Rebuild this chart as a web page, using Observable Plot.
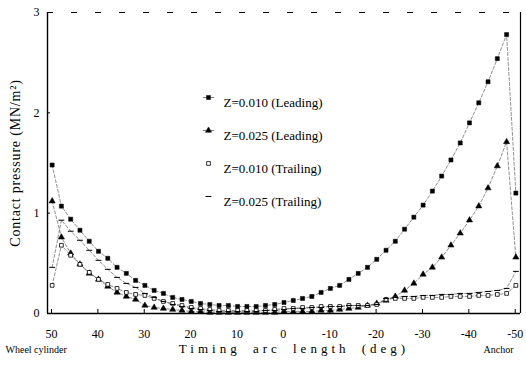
<!DOCTYPE html>
<html><head><meta charset="utf-8">
<script src="https://cdn.jsdelivr.net/npm/d3@7"></script>
<script src="https://cdn.jsdelivr.net/npm/@observablehq/plot@0.6"></script>
<style>
body{margin:0;background:#fff;}
#chart{width:526px;height:368px;}
</style></head><body><div id="chart"></div>
<script>
// Timing arc length (deg) of each sample point
const arcDeg = [49,47,45,43,41,39,37,35,33,31,29,27,25,23,21,19,17,15,13,11,9,7,5,3,1,-1,-3,-5,-7,-9,-11,-13,-15,-17,-19,-21,-23,-25,-27,-29,-31,-33,-35,-37,-39,-41,-43,-45,-47,-49,-51];
// Contact pressure (MN/m^2)
const leading010 = [1.48,1.07,0.94,0.83,0.72,0.62,0.55,0.46,0.40,0.33,0.28,0.23,0.20,0.16,0.14,0.12,0.10,0.09,0.08,0.08,0.07,0.07,0.07,0.08,0.09,0.11,0.13,0.15,0.17,0.21,0.25,0.28,0.34,0.40,0.46,0.54,0.63,0.72,0.84,0.96,1.08,1.22,1.37,1.53,1.70,1.90,2.10,2.31,2.54,2.78,1.20];
const leading025 = [1.12,0.76,0.60,0.49,0.40,0.34,0.27,0.21,0.17,0.14,0.08,0.06,0.05,0.04,0.03,0.02,0.02,0.01,0.01,0.01,0.01,0.01,0.01,0.01,0.01,0.02,0.02,0.02,0.02,0.03,0.03,0.04,0.05,0.06,0.08,0.10,0.13,0.17,0.23,0.30,0.39,0.46,0.56,0.68,0.80,0.93,1.07,1.25,1.47,1.71,0.56];
const trailing010 = [0.28,0.68,0.58,0.49,0.41,0.34,0.29,0.25,0.21,0.19,0.18,0.15,0.12,0.10,0.08,0.06,0.05,0.04,0.03,0.03,0.03,0.03,0.03,0.03,0.04,0.05,0.05,0.06,0.06,0.07,0.07,0.07,0.08,0.08,0.08,0.09,0.14,0.15,0.15,0.15,0.16,0.16,0.16,0.17,0.17,0.17,0.18,0.18,0.19,0.20,0.28];
const trailing025 = [0.46,0.93,0.82,0.73,0.63,0.53,0.44,0.36,0.30,0.26,0.20,0.16,0.12,0.09,0.07,0.05,0.04,0.03,0.02,0.02,0.02,0.02,0.02,0.03,0.03,0.04,0.05,0.05,0.06,0.06,0.07,0.07,0.08,0.08,0.08,0.09,0.15,0.16,0.17,0.17,0.18,0.18,0.19,0.19,0.20,0.20,0.21,0.22,0.23,0.25,0.42];
const seriesNames = ["Z=0.010 (Leading)","Z=0.025 (Leading)","Z=0.010 (Trailing)","Z=0.025 (Trailing)"];
const xTicks = [50,40,30,20,10,0,-10,-20,-30,-40,-50];
const yTicks = [0,1,2,3];
const xLabel = "Timing arc length (deg)";
const yLabel = "Contact pressure (MN/m²)";
const leftNote = "Wheel cylinder";
const rightNote = "Anchor";

const seriesValues = [leading010, leading025, trailing010, trailing025];
const rows = seriesValues.flatMap((vals, s) => arcDeg.map((x, i) => ({x, y: vals[i], s})));

const dash = {draw(ctx, size){ const w = Math.sqrt(size) * 0.55; ctx.moveTo(-w, 0); ctx.lineTo(w, 0); }};
const withLine = (shape) => ({draw(ctx, size){
  const s = Math.sqrt(size);
  ctx.moveTo(-s * 1.4, 0); ctx.lineTo(-s * 0.45, 0);
  ctx.moveTo(s * 0.45, 0); ctx.lineTo(s * 1.4, 0);
  shape.draw(ctx, size);
}});
const styles = [
  {symbol: d3.symbolSquare, legend: withLine(d3.symbolSquare), fill: "black", stroke: "black", r: 2.3, sw: 0.5},
  {symbol: d3.symbolTriangle, legend: withLine(d3.symbolTriangle), fill: "black", stroke: "black", r: 2.3, sw: 0.5},
  {symbol: d3.symbolSquare, legend: d3.symbolSquare, fill: "white", stroke: "black", r: 2.1, sw: 0.8},
  {symbol: dash, legend: dash, fill: "none", stroke: "black", r: 3.0, sw: 1}
];

const seriesMarks = styles.flatMap((st, s) => {
  const d = rows.filter(r => r.s === s);
  return [
    Plot.line(d, {x: "x", y: "y", stroke: "#444", strokeWidth: 0.6, strokeDasharray: "3,2"}),
    Plot.dot(d, {x: "x", y: "y", symbol: st.symbol, fill: st.fill, stroke: st.stroke, strokeWidth: st.sw, r: st.r})
  ];
});
const legendMarks = styles.flatMap((st, i) => [
  Plot.dot([seriesNames[i]], {frameAnchor: "top-left", dx: 161, dy: 85 + 33 * i, symbol: st.legend, fill: st.fill, stroke: st.stroke, strokeWidth: st.sw, r: st.r}),
  Plot.text([seriesNames[i]], {frameAnchor: "top-left", dx: 176, dy: 85 + 33 * i, text: d => d, textAnchor: "start", fontSize: 13})
]);

const chart = Plot.plot({
  width: 526, height: 368,
  marginLeft: 47, marginRight: 6, marginTop: 12, marginBottom: 55,
  x: {domain: [50, -52]},
  y: {domain: [0, 3]},
  style: {fontFamily: "'Liberation Serif', 'DejaVu Serif', serif", fontSize: "12px", color: "black", background: "white"},
  marks: [
    Plot.ruleY([3], {strokeDasharray: "6,18", strokeWidth: 1}),
    Plot.ruleX([50], {strokeWidth: 1.4}),
    Plot.ruleX([-52], {strokeWidth: 1.2}),
    Plot.ruleY([0], {strokeWidth: 1.4}),
    Plot.axisX({ticks: xTicks, tickSize: -4, tickPadding: 20, tickFormat: d => String(d), label: null, fontSize: 12, dx: 4}),
    Plot.axisY({ticks: yTicks, tickSize: -3, tickPadding: 11, tickFormat: d => String(d), label: null, fontSize: 12}),
    ...seriesMarks,
    ...legendMarks,
    Plot.text([yLabel], {frameAnchor: "left", dx: -32, rotate: -90, text: d => d, textAnchor: "middle", fontSize: 14}),
    Plot.text([xLabel], {frameAnchor: "bottom", dx: 10, dy: 39, text: d => d, fontSize: 13}),
    Plot.text([leftNote], {frameAnchor: "bottom-left", dx: -42, dy: 39, text: d => d, textAnchor: "start", fontSize: 10}),
    Plot.text([rightNote], {frameAnchor: "bottom-right", dx: -7, dy: 39, text: d => d, textAnchor: "end", fontSize: 10})
  ]
});
document.getElementById("chart").appendChild(chart);
d3.select(chart).selectAll("text").filter(function(){ return this.textContent === xLabel; })
  .style("letter-spacing", "4px").style("word-spacing", "5px");
d3.select(chart).selectAll("text").filter(function(){ return this.textContent === yLabel; })
  .style("letter-spacing", "0.8px");
</script></body></html>
